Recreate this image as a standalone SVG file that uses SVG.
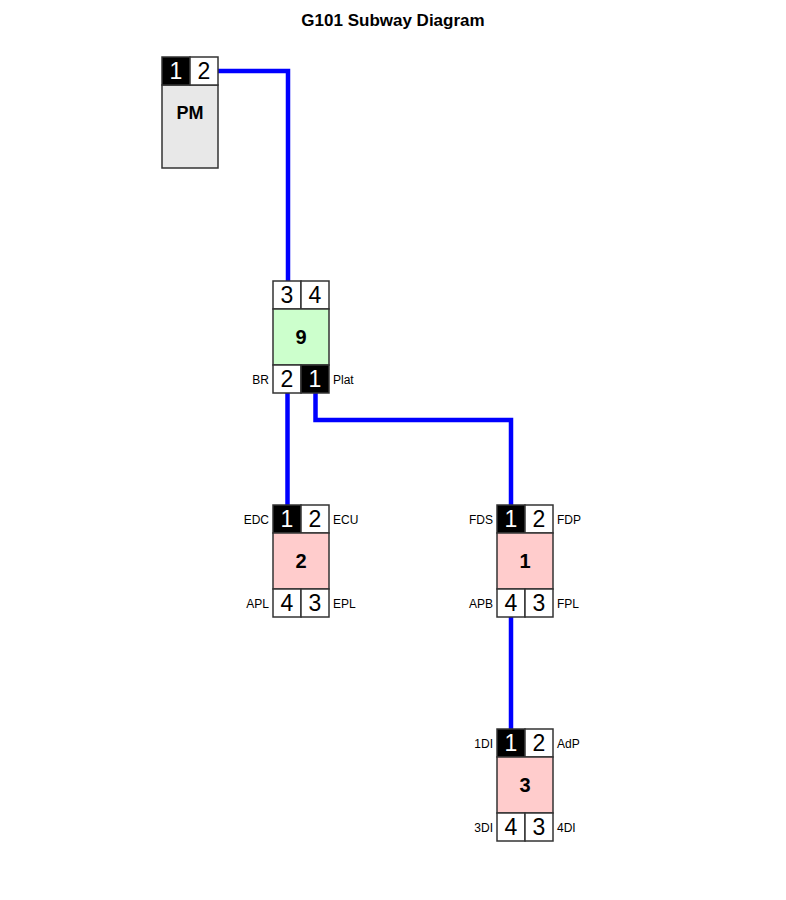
<svg xmlns="http://www.w3.org/2000/svg" width="786" height="900" viewBox="0 0 786 900">
<style>
text{font-family:"Liberation Sans",Arial,sans-serif;fill:#000}
.title{font-size:17px;font-weight:bold;text-anchor:middle}
.cell{fill:#fff;stroke:#333;stroke-width:1.5}
.cellon{fill:#000;stroke:#333;stroke-width:1.5}
.pn{font-size:23px;text-anchor:middle}
.pnon{font-size:23px;text-anchor:middle;fill:#fff}
.body{stroke:#333;stroke-width:1.5}
.nl{font-size:20px;font-weight:bold;text-anchor:middle}
.lab{font-size:12px}
.lr{font-size:12px;text-anchor:end}
.wire{fill:none;stroke:#0000ff;stroke-width:4.5;stroke-linejoin:miter}
</style>
<rect width="786" height="900" fill="#fff"/>
<text class="title" x="393" y="26">G101 Subway Diagram</text>
<g id="connectors">
<polyline class="wire" points="218,71 288,71 288,281"/>
<polyline class="wire" points="287.5,393 287.5,505"/>
<polyline class="wire" points="315.5,393 315.5,420 511,420 511,505"/>
<polyline class="wire" points="511,617 511,729"/>
</g>
<g id="node-PM">
<rect class="body" x="162" y="85" width="56" height="83" fill="#e8e8e8"/>
<rect class="cellon" x="162" y="57" width="28" height="28"/>
<rect class="cell" x="190" y="57" width="28" height="28"/>
<text class="pnon" x="176" y="79">1</text>
<text class="pn" x="204" y="79">2</text>
<text class="nl" x="190" y="119" style="font-size:18px">PM</text>
</g>
<g id="node-9">
<rect class="cell" x="273" y="281" width="28" height="28"/>
<rect class="cell" x="301" y="281" width="28" height="28"/>
<text class="pn" x="287" y="303">3</text>
<text class="pn" x="315" y="303">4</text>
<rect class="body" x="273" y="309" width="56" height="56" fill="#ccffcc"/>
<text class="nl" x="301" y="344">9</text>
<rect class="cell" x="273" y="365" width="28" height="28"/>
<rect class="cellon" x="301" y="365" width="28" height="28"/>
<text class="pn" x="287" y="387">2</text>
<text class="pnon" x="315" y="387">1</text>
<text class="lr" x="269" y="384">BR</text>
<text class="lab" x="333" y="384">Plat</text>
</g>
<g id="node-2">
<rect class="cellon" x="273" y="505" width="28" height="28"/>
<rect class="cell" x="301" y="505" width="28" height="28"/>
<text class="pnon" x="287" y="527">1</text>
<text class="pn" x="315" y="527">2</text>
<rect class="body" x="273" y="533" width="56" height="56" fill="#ffcccc"/>
<text class="nl" x="301" y="568">2</text>
<rect class="cell" x="273" y="589" width="28" height="28"/>
<rect class="cell" x="301" y="589" width="28" height="28"/>
<text class="pn" x="287" y="611">4</text>
<text class="pn" x="315" y="611">3</text>
<text class="lr" x="269" y="524">EDC</text>
<text class="lab" x="333" y="524">ECU</text>
<text class="lr" x="269" y="608">APL</text>
<text class="lab" x="333" y="608">EPL</text>
</g>
<g id="node-1">
<rect class="cellon" x="497" y="505" width="28" height="28"/>
<rect class="cell" x="525" y="505" width="28" height="28"/>
<text class="pnon" x="511" y="527">1</text>
<text class="pn" x="539" y="527">2</text>
<rect class="body" x="497" y="533" width="56" height="56" fill="#ffcccc"/>
<text class="nl" x="525" y="568">1</text>
<rect class="cell" x="497" y="589" width="28" height="28"/>
<rect class="cell" x="525" y="589" width="28" height="28"/>
<text class="pn" x="511" y="611">4</text>
<text class="pn" x="539" y="611">3</text>
<text class="lr" x="493" y="524">FDS</text>
<text class="lab" x="557" y="524">FDP</text>
<text class="lr" x="493" y="608">APB</text>
<text class="lab" x="557" y="608">FPL</text>
</g>
<g id="node-3">
<rect class="cellon" x="497" y="729" width="28" height="28"/>
<rect class="cell" x="525" y="729" width="28" height="28"/>
<text class="pnon" x="511" y="751">1</text>
<text class="pn" x="539" y="751">2</text>
<rect class="body" x="497" y="757" width="56" height="56" fill="#ffcccc"/>
<text class="nl" x="525" y="792">3</text>
<rect class="cell" x="497" y="813" width="28" height="28"/>
<rect class="cell" x="525" y="813" width="28" height="28"/>
<text class="pn" x="511" y="835">4</text>
<text class="pn" x="539" y="835">3</text>
<text class="lr" x="493" y="748">1DI</text>
<text class="lab" x="557" y="748">AdP</text>
<text class="lr" x="493" y="832">3DI</text>
<text class="lab" x="557" y="832">4DI</text>
</g>
</svg>
